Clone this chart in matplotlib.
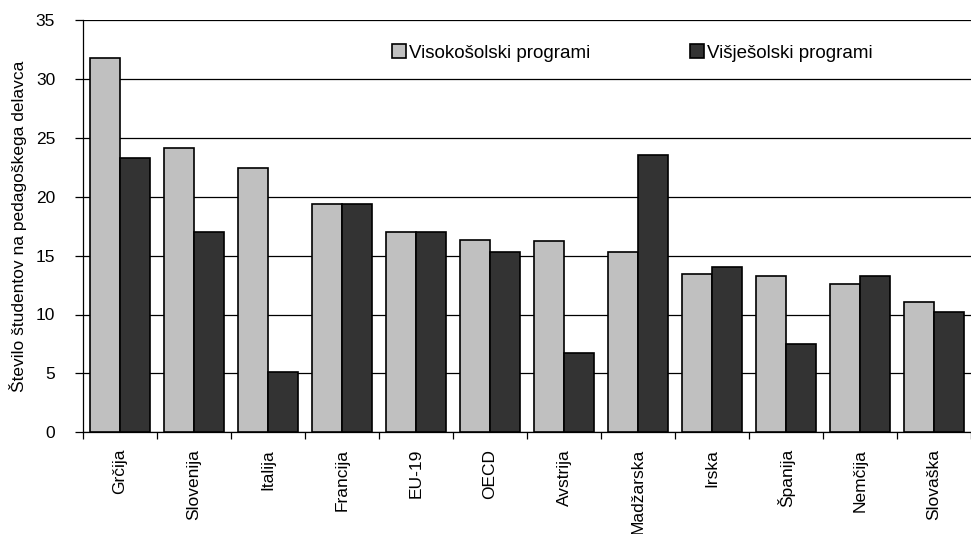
import matplotlib
matplotlib.use('Agg')
import matplotlib.pyplot as plt
import numpy as np

plt.rcParams['font.family'] = ['Liberation Sans', 'DejaVu Sans']

# data
countries = ['Grčija', 'Slovenija', 'Italija', 'Francija', 'EU-19', 'OECD',
             'Avstrija', 'Madžarska', 'Irska', 'Španija', 'Nemčija', 'Slovaška']
visoko = [31.8, 24.1, 22.4, 19.4, 17.0, 16.3, 16.2, 15.3, 13.4, 13.3, 12.6, 11.1]
visje = [23.3, 17.0, 5.1, 19.4, 17.0, 15.3, 6.7, 23.5, 14.0, 7.5, 13.3, 10.2]
series_names = ['Visokošolski programi', 'Višješolski programi']

fig = plt.figure(figsize=(9.71, 5.34), dpi=100)
ax = fig.add_axes([83/971, (534-432.3)/534, (971-83)/971, (432.3-20)/534])

x = np.arange(len(countries))
w = 0.41
ax.bar(x - w/2, visoko, w, color='#c0c0c0', edgecolor='black', linewidth=1.2,
       label=series_names[0], zorder=3)
ax.bar(x + w/2, visje, w, color='#333333', edgecolor='black', linewidth=1.2,
       label=series_names[1], zorder=3)

ax.set_xlim(-0.5, len(countries) - 0.5)
ax.set_ylim(0, 35)
ax.set_yticks(np.arange(0, 36, 5))
ax.yaxis.grid(True, color='black', linewidth=0.9, zorder=0)
ax.set_axisbelow(True)

ax.set_xticks(x)
ax.set_xticklabels(countries, rotation=90, fontsize=12.5)
ax.set_xticks(np.arange(-0.5, len(countries), 1), minor=True)
ax.tick_params(axis='x', which='major', length=0, pad=12)
ax.tick_params(axis='x', which='minor', length=5, width=0.9, direction='out')
ax.tick_params(axis='y', length=6, width=0.9, labelsize=12.5, pad=14)

for s in ['top', 'right']:
    ax.spines[s].set_visible(False)
ax.spines['left'].set_linewidth(0.9)
ax.spines['bottom'].set_linewidth(0.9)

ax.set_ylabel('Število študentov na pedagoškega delavca', fontsize=12.5)
ax.yaxis.set_label_coords((18 - 83) / 888, 0.5)
ax.yaxis.label.set_verticalalignment('center')

ax.legend(loc='center left', bbox_to_anchor=(383/971, 1 - 53/534), bbox_transform=fig.transFigure,
          ncol=2, frameon=False, fontsize=13.5, handlelength=0.75, handleheight=0.75,
          handletextpad=0.15, columnspacing=5.3, borderpad=0)

fig.savefig('out.png', dpi=100)
